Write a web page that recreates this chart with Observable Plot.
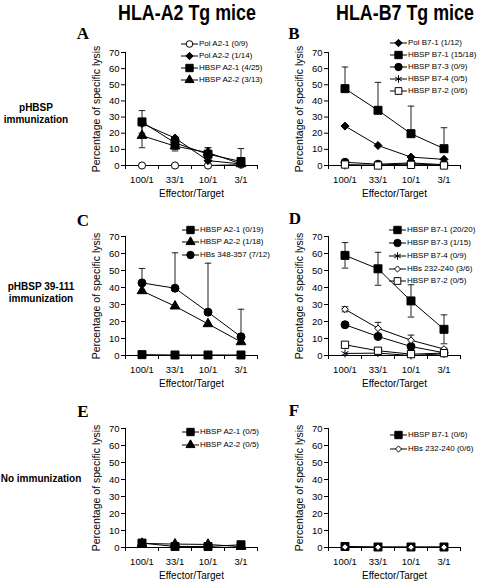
<!DOCTYPE html>
<html><head><meta charset="utf-8">
<script src="https://cdn.jsdelivr.net/npm/d3@7"></script>
<script src="https://cdn.jsdelivr.net/npm/@observablehq/plot@0.6"></script>
<style>
body{margin:0;background:#fff;overflow:hidden}
#wrap{position:relative;width:480px;height:581px;overflow:hidden;background:#fff;font-family:Arial,"Liberation Sans",sans-serif;color:#000}
.abs{position:absolute;white-space:nowrap}
.title{font-weight:bold;font-size:21.5px;line-height:22px;transform:translateX(-50%) scaleX(0.83)}
.rowlab{font-weight:bold;font-size:11.5px;line-height:12px;text-align:center;transform:translateX(-50%) scaleX(0.87)}
.letter{font-family:"Liberation Serif","Times New Roman",serif;font-weight:bold;font-size:17px;line-height:17px;transform:translateX(-50%)}
.leg{font-size:8px;line-height:12px;height:12px;display:flex;align-items:center}
.leg svg{display:block;overflow:visible}
.panel svg{overflow:visible}
svg g[aria-label="x-axis label"] text{font-size:10px}
</style>
</head><body><div id="wrap"></div>
<script>
// ---------- shared categories / labels ----------
const categories = ["100/1", "33/1", "10/1", "3/1"];
const yTicks = [0, 10, 20, 30, 40, 50, 60, 70];
const columnTitles = ["HLA-A2 Tg mice", "HLA-B7 Tg mice"];
const rowLabels = [["pHBSP", "immunization"], ["pHBSP 39-111", "immunization"], ["No immunization"]];
const panelLetters = ["A", "B", "C", "D", "E", "F"];
const xLabel = "Effector/Target";
const yLabel = "Percentage of specific lysis";

// ---------- Panel A ----------
const aNames = ["Pol A2-1 (0/9)", "Pol A2-2 (1/14)", "HBSP A2-1 (4/25)", "HBSP A2-2 (3/13)"];
const aPolA21 = [0, 0, 0, 0.5];
const aPolA22 = [26, 17, 3, 1];
const aHbspA21 = [27, 14, 7, 2.5];
const aHbspA21Err = [7, 4, 4, 8];
const aHbspA22 = [18.5, 12, 8, 1];
const aHbspA22Err = [7.5, 3, 3, 1];

// ---------- Panel B ----------
const bNames = ["Pol B7-1 (1/12)", "HBSP B7-1 (15/18)", "HBSP B7-3 (0/9)", "HBSP B7-4 (0/5)", "HBSP B7-2 (0/6)"];
const bPolB71 = [24.4, 12.4, 5.2, 3.8];
const bHbspB71 = [47.6, 34.2, 19.7, 10.4];
const bHbspB71Err = [13.4, 17.3, 17.1, 13];
const bHbspB73 = [2, 0.8, 1.6, 0.5];
const bHbspB74 = [0, 0.3, 1, 0.2];
const bHbspB72 = [0.6, 0, 0.4, 0];

// ---------- Panel C ----------
const cNames = ["HBSP A2-1 (0/19)", "HBSP A2-2 (1/18)", "HBs 348-357 (7/12)"];
const cHbspA21 = [0.5, 0.3, 0.3, 0.3];
const cHbspA22 = [38, 29, 18.6, 8];
const cHbs348 = [42.7, 39.6, 25.5, 11];
const cHbs348Err = [8.5, 20.8, 28.8, 16.2];

// ---------- Panel D ----------
const dNames = ["HBSP B7-1 (20/20)", "HBSP B7-3 (1/15)", "HBSP B7-4 (0/9)", "HBs 232-240 (3/6)", "HBSP B7-2 (0/5)"];
const dHbspB71 = [58.9, 51, 32.1, 15.4];
const dHbspB71Err = [7.5, 9.7, 9.5, 8.5];
const dHbspB73 = [18.1, 11.2, 5.3, 1.6];
const dHbspB74 = [1.2, 1.4, 0, 1];
const dHbs232 = [27.2, 16, 9, 3.8];
const dHbs232Err = [1.5, 3.5, 3, 0.5];
const dHbspB72 = [6.3, 2.8, 0.8, 1.4];

// ---------- Panel E ----------
const eNames = ["HBSP A2-1 (0/5)", "HBSP A2-2 (0/5)"];
const eHbspA21 = [2.6, 0.6, 0.6, 1.6];
const eHbspA22 = [2.4, 2.0, 1.8, 0.5];

// ---------- Panel F ----------
const fNames = ["HBSP B7-1 (0/6)", "HBs 232-240 (0/6)"];
const fHbspB71 = [0.6, 0.3, 0.3, 0.3];
const fHbs232 = [0.3, 0.2, 0.2, 0.2];

// ---------- marker styles ----------
const SYM = {
  circleOpen:   {plot: "circle",   d3: d3.symbolCircle,   r: 3.6, fill: "white", stroke: "black"},
  circleFilled: {plot: "circle",   d3: d3.symbolCircle,   r: 4,   fill: "black", stroke: "black"},
  diamondFilled:{plot: "diamond2", d3: d3.symbolDiamond2, r: 3.6, fill: "black", stroke: "black"},
  diamondOpen:  {plot: "diamond2", d3: d3.symbolDiamond2, r: 3,   fill: "white", stroke: "black"},
  squareFilled: {plot: "square",   d3: d3.symbolSquare,   r: 4.5, fill: "black", stroke: "black"},
  squareOpen:   {plot: "square",   d3: d3.symbolSquare,   r: 4.1, fill: "white", stroke: "black"},
  triangle:     {plot: "triangle", d3: d3.symbolTriangle, r: 3.6, fill: "black", stroke: "black"},
  asterisk:     {plot: "asterisk", d3: d3.symbolAsterisk, r: 3.8, fill: "none",  stroke: "black"}
};
const capSymbol = {draw(ctx, size) { const w = Math.sqrt(size / Math.PI); ctx.moveTo(-w, 0); ctx.lineTo(w, 0); }};

// ---------- panels (layout) ----------
const panels = [
  {letter: 0, left: 80, top: 42, frameH: 113, mb: 35, legend: {left: 181, rows: [43.5, 55.5, 67.5, 80]},
   series: [
     {name: aNames[0], values: aPolA21, sym: SYM.circleOpen},
     {name: aNames[1], values: aPolA22, sym: SYM.diamondFilled},
     {name: aNames[2], values: aHbspA21, err: aHbspA21Err, dir: "both", sym: SYM.squareFilled},
     {name: aNames[3], values: aHbspA22, err: aHbspA22Err, dir: "both", sym: SYM.triangle}]},
  {letter: 1, left: 283, top: 42, frameH: 113, mb: 35, legend: {left: 390, rows: [43, 55, 67, 79, 90.5]},
   series: [
     {name: bNames[0], values: bPolB71, sym: SYM.diamondFilled},
     {name: bNames[1], values: bHbspB71, err: bHbspB71Err, dir: "up", sym: SYM.squareFilled},
     {name: bNames[2], values: bHbspB73, sym: SYM.circleFilled},
     {name: bNames[3], values: bHbspB74, sym: SYM.asterisk},
     {name: bNames[4], values: bHbspB72, sym: SYM.squareOpen}]},
  {letter: 2, left: 80, top: 226, frameH: 119, mb: 35, legend: {left: 182, rows: [229.5, 242, 254.5]},
   series: [
     {name: cNames[0], values: cHbspA21, sym: SYM.squareFilled},
     {name: cNames[1], values: cHbspA22, sym: SYM.triangle},
     {name: cNames[2], values: cHbs348, err: cHbs348Err, dir: "up", sym: SYM.circleFilled}]},
  {letter: 3, left: 283, top: 226, frameH: 119, mb: 35, legend: {left: 389, rows: [230, 243, 256, 268.5, 281]},
   series: [
     {name: dNames[0], values: dHbspB71, err: dHbspB71Err, dir: "both", sym: SYM.squareFilled},
     {name: dNames[1], values: dHbspB73, sym: SYM.circleFilled},
     {name: dNames[2], values: dHbspB74, sym: SYM.asterisk},
     {name: dNames[3], values: dHbs232, err: dHbs232Err, dir: "both", sym: SYM.diamondOpen},
     {name: dNames[4], values: dHbspB72, sym: SYM.squareOpen}]},
  {letter: 4, left: 80, top: 418, frameH: 119, mb: 33, legend: {left: 182, rows: [432, 444.5]},
   series: [
     {name: eNames[0], values: eHbspA21, sym: SYM.squareFilled},
     {name: eNames[1], values: eHbspA22, sym: SYM.triangle}]},
  {letter: 5, left: 283, top: 418, frameH: 119, mb: 33, legend: {left: 390, rows: [435, 449]},
   series: [
     {name: fNames[0], values: fHbspB71, sym: SYM.squareFilled},
     {name: fNames[1], values: fHbs232, sym: SYM.diamondOpen}]}
];

const wrap = document.getElementById("wrap");
function addDiv(cls, left, top, html) {
  const d = document.createElement("div");
  d.className = "abs " + cls;
  d.style.left = left + "px";
  d.style.top = top + "px";
  d.innerHTML = html;
  wrap.appendChild(d);
  return d;
}

// titles
addDiv("title", 187, 2, columnTitles[0]);
addDiv("title", 405, 2, columnTitles[1]);
// row labels
addDiv("rowlab", 36, 101, rowLabels[0].join("<br>"));
addDiv("rowlab", 41, 280, rowLabels[1].join("<br>"));
addDiv("rowlab", 41, 472, rowLabels[2].join("<br>"));
// panel letters
const letterPos = [[83, 25], [294, 25], [83, 212], [295, 210], [83, 403], [294, 402]];
panelLetters.forEach((L, i) => addDiv("letter", letterPos[i][0], letterPos[i][1], L));

function buildPanel(p) {
  const marks = [
    Plot.axisY({ticks: yTicks, tickSize: 4, tickPadding: 2, label: null}),
    Plot.text([yLabel], {frameAnchor: "left", rotate: -90, dx: -29, textAnchor: "middle", lineAnchor: "middle", fontSize: 10.5}),
    Plot.axisX({ticks: categories.map((c, i) => i + 0.5), tickFormat: t => categories[Math.floor(t)], tickSize: 0, tickPadding: 11, label: xLabel, labelAnchor: "center", labelArrow: "none", labelOffset: 31}),
    Plot.axisX({ticks: d3.range(categories.length + 1), tickFormat: () => "", tickSize: 4, label: null}),
    Plot.ruleX([0], {stroke: "black"}),
    Plot.ruleY([0], {stroke: "black"})
  ];
  // lines
  p.series.forEach(s => {
    const rows = s.values.map((v, i) => ({xi: i + 0.5, v}));
    marks.push(Plot.line(rows, {x: "xi", y: "v", stroke: "black", strokeWidth: 1}));
  });
  // error bars
  p.series.filter(s => s.err).forEach(s => {
    const bars = s.values.map((v, i) => {
      const e = s.err[i];
      const lo = s.dir === "both" ? Math.max(0, v - e) : v;
      return {xi: i + 0.5, lo, hi: v + e};
    });
    const caps = [];
    s.values.forEach((v, i) => {
      const e = s.err[i];
      caps.push({xi: i + 0.5, y: v + e});
      if (s.dir === "both" && v - e > 0.5) caps.push({xi: i + 0.5, y: v - e});
    });
    marks.push(Plot.ruleX(bars, {x: "xi", y1: "lo", y2: "hi", stroke: "#222", strokeWidth: 1}));
    marks.push(Plot.dot(caps, {x: "xi", y: "y", symbol: capSymbol, r: 3.3, fill: "none", stroke: "#222", strokeWidth: 1}));
  });
  // markers
  p.series.forEach(s => {
    const rows = s.values.map((v, i) => ({xi: i + 0.5, v}));
    marks.push(Plot.dot(rows, {x: "xi", y: "v", symbol: s.sym.plot, r: s.sym.r, fill: s.sym.fill, stroke: s.sym.stroke, strokeWidth: 1}));
  });
  const chart = Plot.plot({
    width: 185,
    height: 10 + p.frameH + p.mb,
    marginLeft: 45, marginRight: 8, marginTop: 10, marginBottom: p.mb,
    x: {type: "linear", domain: [0, categories.length]},
    y: {domain: [0, 70]},
    style: {fontFamily: "Arial, 'Liberation Sans', sans-serif", fontSize: "9.5px", background: "transparent", color: "black", overflow: "visible"},
    marks
  });
  const holder = addDiv("panel", p.left, p.top, "");
  holder.appendChild(chart);

  // legend
  p.series.forEach((s, k) => {
    const row = addDiv("leg", p.legend.left, p.legend.rows[k] - 6, "");
    const svg = d3.select(row).append("svg").attr("width", 17).attr("height", 12);
    svg.append("line").attr("x1", 0).attr("x2", 17).attr("y1", 6).attr("y2", 6).attr("stroke", "black").attr("stroke-width", 1);
    svg.append("path").attr("transform", "translate(8.5,6)")
      .attr("d", d3.symbol(s.sym.d3, Math.PI * s.sym.r * s.sym.r * 0.85)())
      .attr("fill", s.sym.fill).attr("stroke", s.sym.stroke).attr("stroke-width", 1);
    const t = document.createElement("span");
    t.style.marginLeft = "1px";
    t.textContent = s.name;
    row.appendChild(t);
  });
}
panels.forEach(buildPanel);
</script>
</body></html>
